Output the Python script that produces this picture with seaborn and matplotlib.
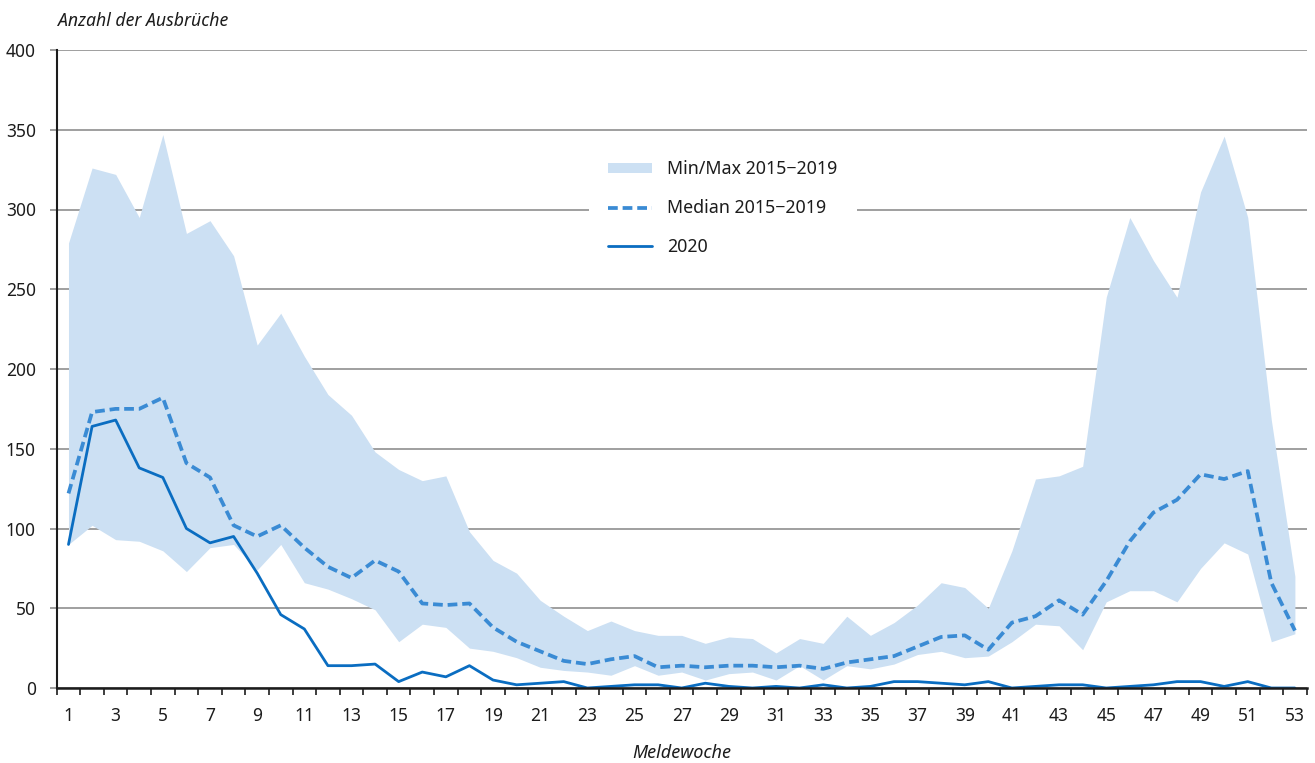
import numpy as np
import pandas as pd
import matplotlib
matplotlib.use("Agg")
import matplotlib.pyplot as plt
from matplotlib.ticker import FixedLocator, NullFormatter
import seaborn as sns

# Reporting weeks
weeks = list(range(1, 54))

# Maximum number of outbreaks per week, 2015-2019
max_2015_2019 = [279, 326, 322, 295, 347, 285, 293, 271, 215, 235,
                 208, 184, 171, 148, 137, 130, 133, 98, 80, 72,
                 55, 45, 36, 42, 36, 33, 33, 28, 32, 31,
                 22, 31, 28, 45, 33, 41, 52, 66, 63, 50,
                 86, 131, 133, 139, 245, 295, 268, 245, 311, 346,
                 295, 168, 70]

# Minimum number of outbreaks per week, 2015-2019
min_2015_2019 = [90, 102, 93, 92, 86, 73, 88, 90, 74, 90,
                 66, 62, 56, 49, 29, 40, 38, 25, 23, 19,
                 13, 11, 10, 8, 14, 8, 10, 5, 9, 10,
                 5, 14, 5, 14, 12, 15, 21, 23, 19, 20,
                 29, 40, 39, 24, 54, 61, 61, 54, 75, 91,
                 84, 29, 34]

# Median number of outbreaks per week, 2015-2019
median_2015_2019 = [122, 173, 175, 175, 182, 141, 132, 102, 95, 102,
                    88, 76, 69, 80, 73, 53, 52, 53, 38, 29,
                    23, 17, 15, 18, 20, 13, 14, 13, 14, 14,
                    13, 14, 12, 16, 18, 20, 26, 32, 33, 24,
                    41, 45, 55, 46, 67, 92, 110, 118, 134, 131,
                    136, 66, 36]

# Outbreaks in 2020
outbreaks_2020 = [90, 164, 168, 138, 132, 100, 91, 95, 72, 46,
                  37, 14, 14, 15, 4, 10, 7, 14, 5, 2,
                  3, 4, 0, 1, 2, 2, 0, 3, 1, 0,
                  1, 0, 2, 0, 1, 4, 4, 3, 2, 4,
                  0, 1, 2, 2, 0, 1, 2, 4, 4, 1,
                  4, 0, 0]

y_ticks = [0, 50, 100, 150, 200, 250, 300, 350, 400]
x_tick_labels = list(range(1, 54, 2))

label_range = "Min/Max 2015\u22122019"
label_median = "Median 2015\u22122019"
label_2020 = "2020"

df = pd.DataFrame({
    "week": weeks,
    "min": min_2015_2019,
    "max": max_2015_2019,
    "median": median_2015_2019,
    "y2020": outbreaks_2020,
})

sns.set_style("white")
plt.rcParams["font.family"] = ["Noto Sans", "DejaVu Sans"]

FILL = "#cce0f3"
MEDIAN = "#3a8bd4"
LINE2020 = "#0a6dc1"
GRID = "#858585"
DARK = "#1c1c1c"
TICK_FS = 12.5

fig = plt.figure(figsize=(13.15, 7.63), dpi=100)
ax = fig.add_axes([56.7 / 1315, 75 / 763, 1250 / 1315, 638 / 763])

range_patch = ax.fill_between(df["week"], df["min"], df["max"], color=FILL,
                              lw=0, label=label_range, zorder=2)
sns.lineplot(data=df, x="week", y="median", ax=ax, color=MEDIAN, lw=2.7,
             label=label_median, zorder=3)
sns.lineplot(data=df, x="week", y="y2020", ax=ax, color=LINE2020, lw=2.0,
             label=label_2020, zorder=4)
median_line = ax.get_lines()[0]
median_line.set_dashes((2.6, 1.3))

ax.set_xlim(0.5, 53.5)
ax.set_ylim(0, 400)

# y axis: gridlines with short grey ticks
ax.set_yticks(y_ticks)
ax.yaxis.grid(True, color=GRID, lw=1.1, zorder=0)
ax.xaxis.grid(False)
ax.set_axisbelow(True)
ax.tick_params(axis="y", which="major", length=5, width=1.1, color=GRID,
               pad=10, labelsize=TICK_FS, labelcolor=DARK, left=True)

# x axis: labels on odd weeks, tick marks between weeks
ax.xaxis.set_major_locator(FixedLocator(x_tick_labels))
ax.set_xticklabels([str(w) for w in x_tick_labels])
ax.xaxis.set_minor_locator(FixedLocator(np.arange(0.5, 54.0, 1.0)))
ax.xaxis.set_minor_formatter(NullFormatter())
ax.tick_params(axis="x", which="major", length=0, pad=14, labelsize=TICK_FS,
               labelcolor=DARK, bottom=True)
ax.tick_params(axis="x", which="minor", length=5, width=1.2, color=DARK,
               bottom=True)

for side in ("top", "right"):
    ax.spines[side].set_visible(False)
ax.spines["left"].set_color(DARK)
ax.spines["left"].set_linewidth(1.5)
ax.spines["bottom"].set_color(DARK)
ax.spines["bottom"].set_linewidth(1.8)
ax.spines["bottom"].set_zorder(5)

ax.set_ylabel("")
ax.set_xlabel("Meldewoche", fontsize=13, style="italic", color=DARK,
              labelpad=13)
fig.text(58 / 1315, 1 - 21 / 763, "Anzahl der Ausbrüche", fontsize=12.7,
         style="italic", color=DARK, ha="left", va="center")

handles = [range_patch, ax.get_lines()[0], ax.get_lines()[1]]
leg = ax.legend(handles, [label_range, label_median, label_2020],
                loc="center", bbox_to_anchor=(0.533, 0.752),
                frameon=True, facecolor="white", edgecolor="none",
                framealpha=1.0, fancybox=False, fontsize=12.8,
                handlelength=2.47, handleheight=0.45, handletextpad=0.84,
                labelspacing=1.17, borderpad=1.1, borderaxespad=0)
for t in leg.get_texts():
    t.set_color(DARK)
leg.set_zorder(6)

fig.savefig("out.png", dpi=100, facecolor="white")
